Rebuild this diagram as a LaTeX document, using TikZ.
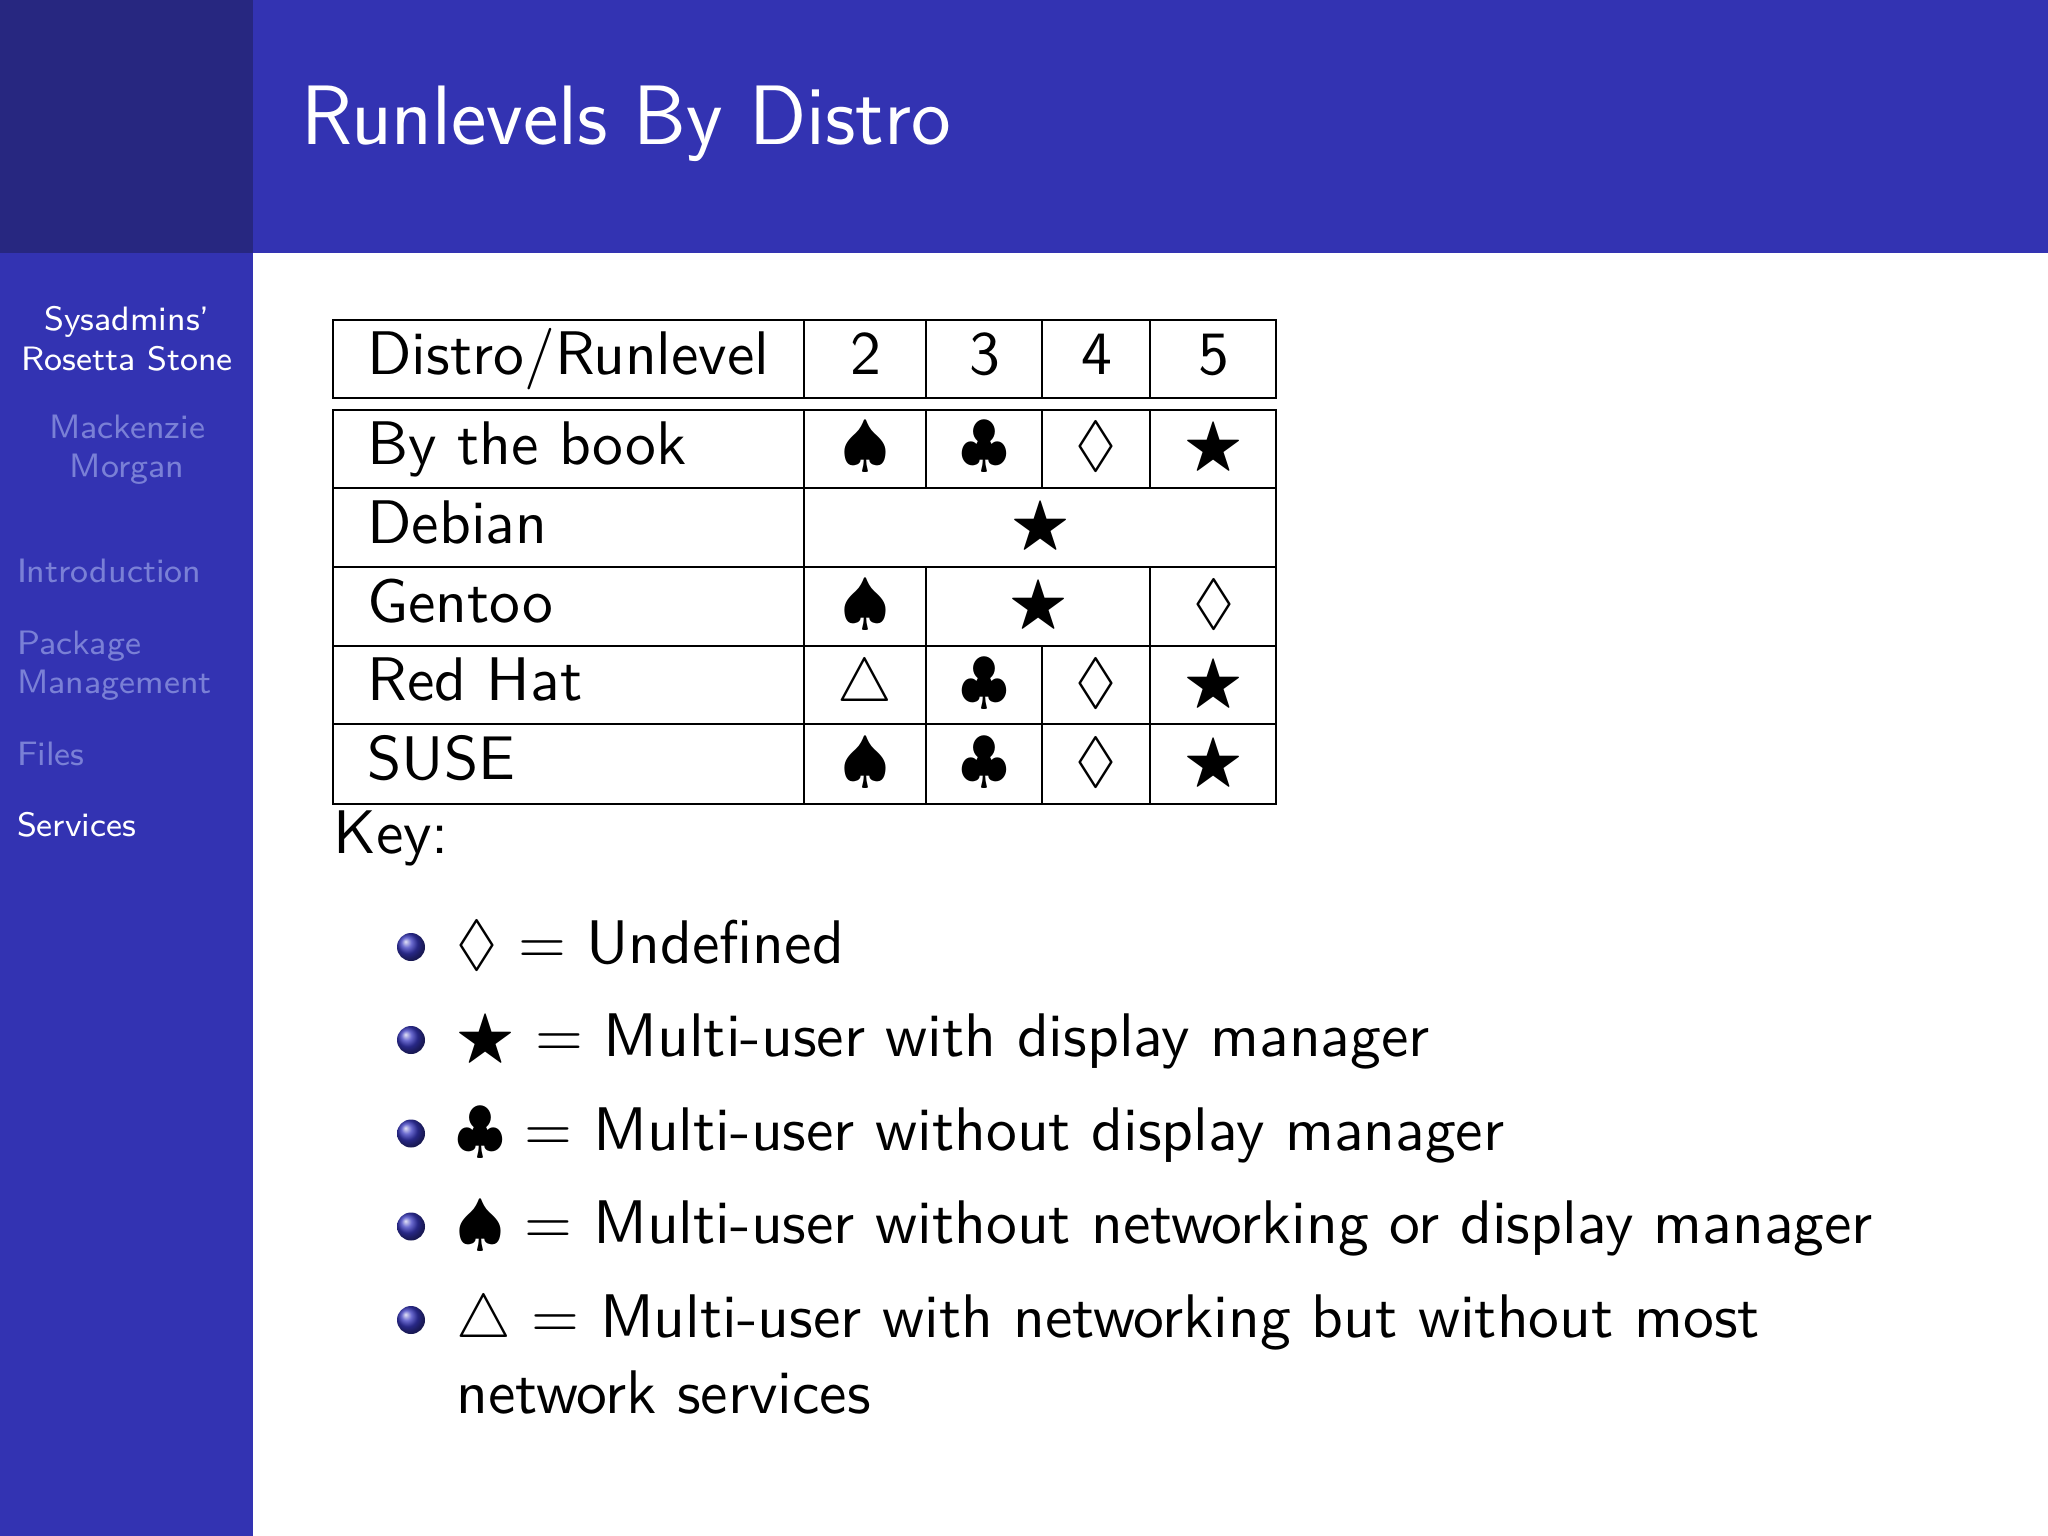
\documentclass[tikz,border=0pt]{standalone}
\usepackage{amssymb}
\usepackage{fontspec}
\setmainfont{Latin Modern Sans}
\definecolor{hdr}{RGB}{51,51,178}
\definecolor{corner}{RGB}{39,39,128}
\definecolor{dimtext}{RGB}{122,128,214}
\definecolor{ballc}{RGB}{56,56,190}
\newcommand{\sG}{$\spadesuit$}
\newcommand{\cG}{$\clubsuit$}
\newcommand{\dG}{$\lozenge$}
\newcommand{\bG}{$\bigstar$}
\newcommand{\tG}{$\triangle$}
\tikzset{
  x=0.17783pt,y=-0.17783pt,
  every node/.style={inner sep=0pt,outer sep=0pt},
  body/.style={anchor=base west,font=\fontsize{10.95}{13}\selectfont,text=black},
  cell/.style={anchor=base,font=\fontsize{10.95}{13}\selectfont,text=black},
  side/.style={anchor=base west,font=\fontsize{6.02}{7}\selectfont,text=dimtext},
  sidec/.style={side,anchor=base},
  grid/.style={line width=0.4pt,black},
}
\begin{document}
\begin{tikzpicture}
\useasboundingbox (0,0) rectangle (2048,1536);
\fill[white] (0,0) rectangle (2048,1536);
\fill[hdr] (0,0) rectangle (2048,253);
\fill[hdr] (0,253) rectangle (253,1536);
\fill[corner] (0,0) rectangle (253,253);
\node[anchor=base west,font=\fontsize{15}{17}\selectfont,text=white] (title) at (302,144.5) {Runlevels By Distro};
% sidebar
\node[sidec,text=white] (s1) at (127,330) {Sysadmins'};
\node[sidec,text=white] (s2) at (127,370) {Rosetta Stone};
\node[sidec] (s3) at (127,438) {Mackenzie};
\node[sidec] (s4) at (127,477) {Morgan};
\node[side] (s5) at (17,582.5) {Introduction};
\node[side] (s6) at (17,654) {Package};
\node[side] (s7) at (17,693.5) {Management};
\node[side] (s8) at (17,765) {Files};
\node[side,text=white] (s9) at (17,836) {Services};
% table rules
\foreach \ya/\yb in {320/398,410/488,488/567,567/646,646/724,724/804}{
  \draw[grid] (333,\ya) rectangle (1276,\yb);
  \draw[grid] (804,\ya) -- (804,\yb);
}
\draw[grid] (926,320)--(926,398) (1042,320)--(1042,398) (1150,320)--(1150,398);
\draw[grid] (926,410)--(926,488) (1042,410)--(1042,488) (1150,410)--(1150,488);
\draw[grid] (926,567)--(926,646) (1150,567)--(1150,646);
\draw[grid] (926,646)--(926,724) (1042,646)--(1042,724) (1150,646)--(1150,724);
\draw[grid] (926,724)--(926,804) (1042,724)--(1042,804) (1150,724)--(1150,804);
% table text
\node[body] (r0) at (367.5,374.5) {Distro/Runlevel};
\node[cell] (h2) at (865.5,374.5) {2};
\node[cell] (h3) at (984.5,374.5) {3};
\node[cell] (h4) at (1097,374.5) {4};
\node[cell] (h5) at (1214,374.5) {5};
\node[body] (r1) at (367.5,464.5) {By the book};
\node[cell] (a2) at (865,464) {\sG};
\node[cell] (a3) at (984,464) {\cG};
\node[cell] (a4) at (1096,464) {\dG};
\node[cell] (a5) at (1214,464) {\bG};
\node[body] (r2) at (367.5,543.5) {Debian};
\node[cell] (b2) at (1041,543) {\bG};
\node[body] (r3) at (367.5,622.5) {Gentoo};
\node[cell] (c2) at (865,622) {\sG};
\node[cell] (c3) at (1039,622) {\bG};
\node[cell] (c5) at (1214,622) {\dG};
\node[body] (r4) at (367.5,700.5) {Red Hat};
\node[cell] (d2) at (865,701) {\tG};
\node[cell] (d3) at (984,701) {\cG};
\node[cell] (d4) at (1096,701) {\dG};
\node[cell] (d5) at (1214,701) {\bG};
\node[body] (r5) at (367.5,779) {SUSE};
\node[cell] (e2) at (865,780) {\sG};
\node[cell] (e3) at (984,780) {\cG};
\node[cell] (e4) at (1096,780) {\dG};
\node[cell] (e5) at (1214,780) {\bG};
\node[body] (key) at (333.5,853.5) {Key:};
% bullets
\foreach \n/\y in {1/947,2/1040,3/1133.5,4/1226.5,5/1320}{
  \shade[ball color=ballc] (411,\y) circle (14);
}
\node[body] (k1) at (456.5,963.5) {\dG{} = Undefined};
\node[body] (k2) at (456.5,1056.5) {\bG{} = Multi-user with display manager};
\node[body] (k3) at (456.5,1150.5) {\cG{} = Multi-user without display manager};
\node[body] (k4) at (456.5,1243.5) {\sG{} = Multi-user without networking or display manager};
\node[body] (k5) at (456.5,1337.5) {\tG{} = Multi-user with networking but without most};
\node[body] (k6) at (456.5,1413.5) {network services};
\end{tikzpicture}
\end{document}
